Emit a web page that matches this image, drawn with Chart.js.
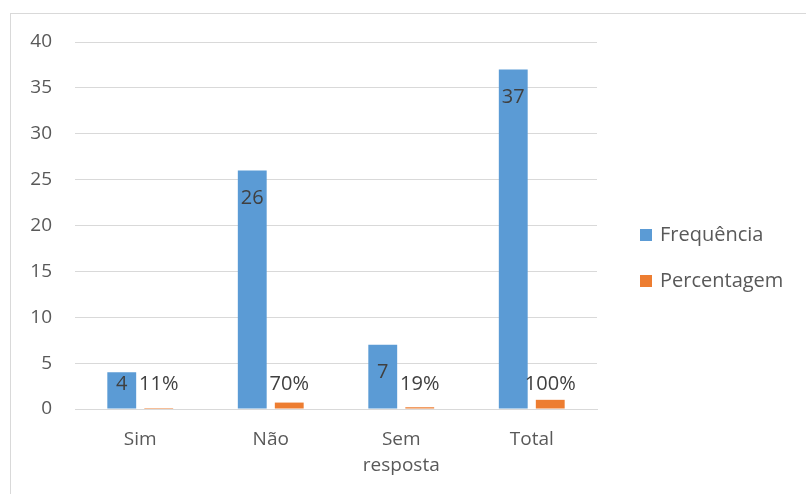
<!DOCTYPE html>
<html>
<head>
<meta charset="utf-8">
<script src="https://cdn.jsdelivr.net/npm/chart.js@4"></script>
<style>
  html, body { margin: 0; padding: 0; background: #fff; }
  #wrap { position: relative; width: 806px; height: 494px; overflow: hidden; }
  #frame { position: absolute; left: 10px; top: 13px; width: 820px; height: 500px; border: 1px solid #d9d9d9; }
  canvas { position: absolute; left: 0; top: 0; }
</style>
</head>
<body>
<div id="wrap">
  <div id="frame"></div>
  <canvas id="chart" width="806" height="494"></canvas>
</div>
<script>
const categories = ['Sim', 'Não', ['Sem', 'resposta'], 'Total'];
const frequencia = [4, 26, 7, 37];
const percentagem = [0.11, 0.70, 0.19, 1.00];
const percentLabels = ['11%', '70%', '19%', '100%'];

const FONT = '"Open Sans", "Liberation Sans", sans-serif';

// labels on the bars, like excel data labels
let barLabels = {
  id: 'barLabels',
  afterDatasetsDraw(chart) {
    let ctx = chart.ctx;
    let base = chart.scales.y.getPixelForValue(0);
    ctx.save();
    ctx.font = '20px ' + FONT;
    ctx.fillStyle = '#404040';
    ctx.textAlign = 'center';
    ctx.textBaseline = 'middle';
    chart.getDatasetMeta(0).data.forEach((bar, i) => {
      let y = Math.min(bar.y + 28, base - 25);
      ctx.fillText(String(frequencia[i]), bar.x, y);
    });
    chart.getDatasetMeta(1).data.forEach((bar, i) => {
      let y = Math.min(bar.y - 16, base - 25);
      ctx.fillText(percentLabels[i], bar.x, y);
    });
    ctx.restore();
  }
};

// legend on the right
let sideLegend = {
  id: 'sideLegend',
  afterDraw(chart) {
    let ctx = chart.ctx;
    ctx.save();
    ctx.font = '20px ' + FONT;
    ctx.textBaseline = 'middle';
    chart.data.datasets.forEach((ds, i) => {
      let cy = 235 + i * 46;
      ctx.fillStyle = ds.backgroundColor;
      ctx.fillRect(640, cy - 6, 12, 12);
      ctx.fillStyle = '#595959';
      ctx.fillText(ds.label, 660, cy);
    });
    ctx.restore();
  }
};

let data = {
  labels: categories,
  datasets: [{
    label: 'Frequência',
    data: frequencia,
    backgroundColor: '#5b9bd5',
    barPercentage: 0.78,
    categoryPercentage: 0.567
  }, {
    label: 'Percentagem',
    data: percentagem,
    backgroundColor: '#ed7d31',
    barPercentage: 0.78,
    categoryPercentage: 0.567
  }]
};

let config = {
  type: 'bar',
  data: data,
  options: {
    responsive: false,
    animation: false,
    layout: {
      padding: { top: 42, right: 209, bottom: 0, left: 0 }
    },
    plugins: {
      legend: { display: false },
      tooltip: { enabled: false }
    },
    scales: {
      x: {
        grid: { display: false, drawTicks: false },
        border: { display: true, color: '#d9d9d9', width: 1 },
        ticks: {
          color: '#595959',
          font: { family: FONT, size: 19, lineHeight: 1.4 },
          padding: 17,
          maxRotation: 0
        },
        afterFit(scale) { scale.height = 85; }
      },
      y: {
        min: 0,
        max: 40,
        grid: { color: '#d9d9d9', lineWidth: 1, drawTicks: false },
        border: { display: false },
        ticks: {
          stepSize: 5,
          color: '#595959',
          font: { family: FONT, size: 19 },
          padding: 23
        },
        afterFit(scale) { scale.width = 75; }
      }
    }
  },
  plugins: [barLabels, sideLegend]
};

var ctx = document.getElementById('chart').getContext('2d');
let myChart = new Chart(ctx, config);
</script>
</body>
</html>
